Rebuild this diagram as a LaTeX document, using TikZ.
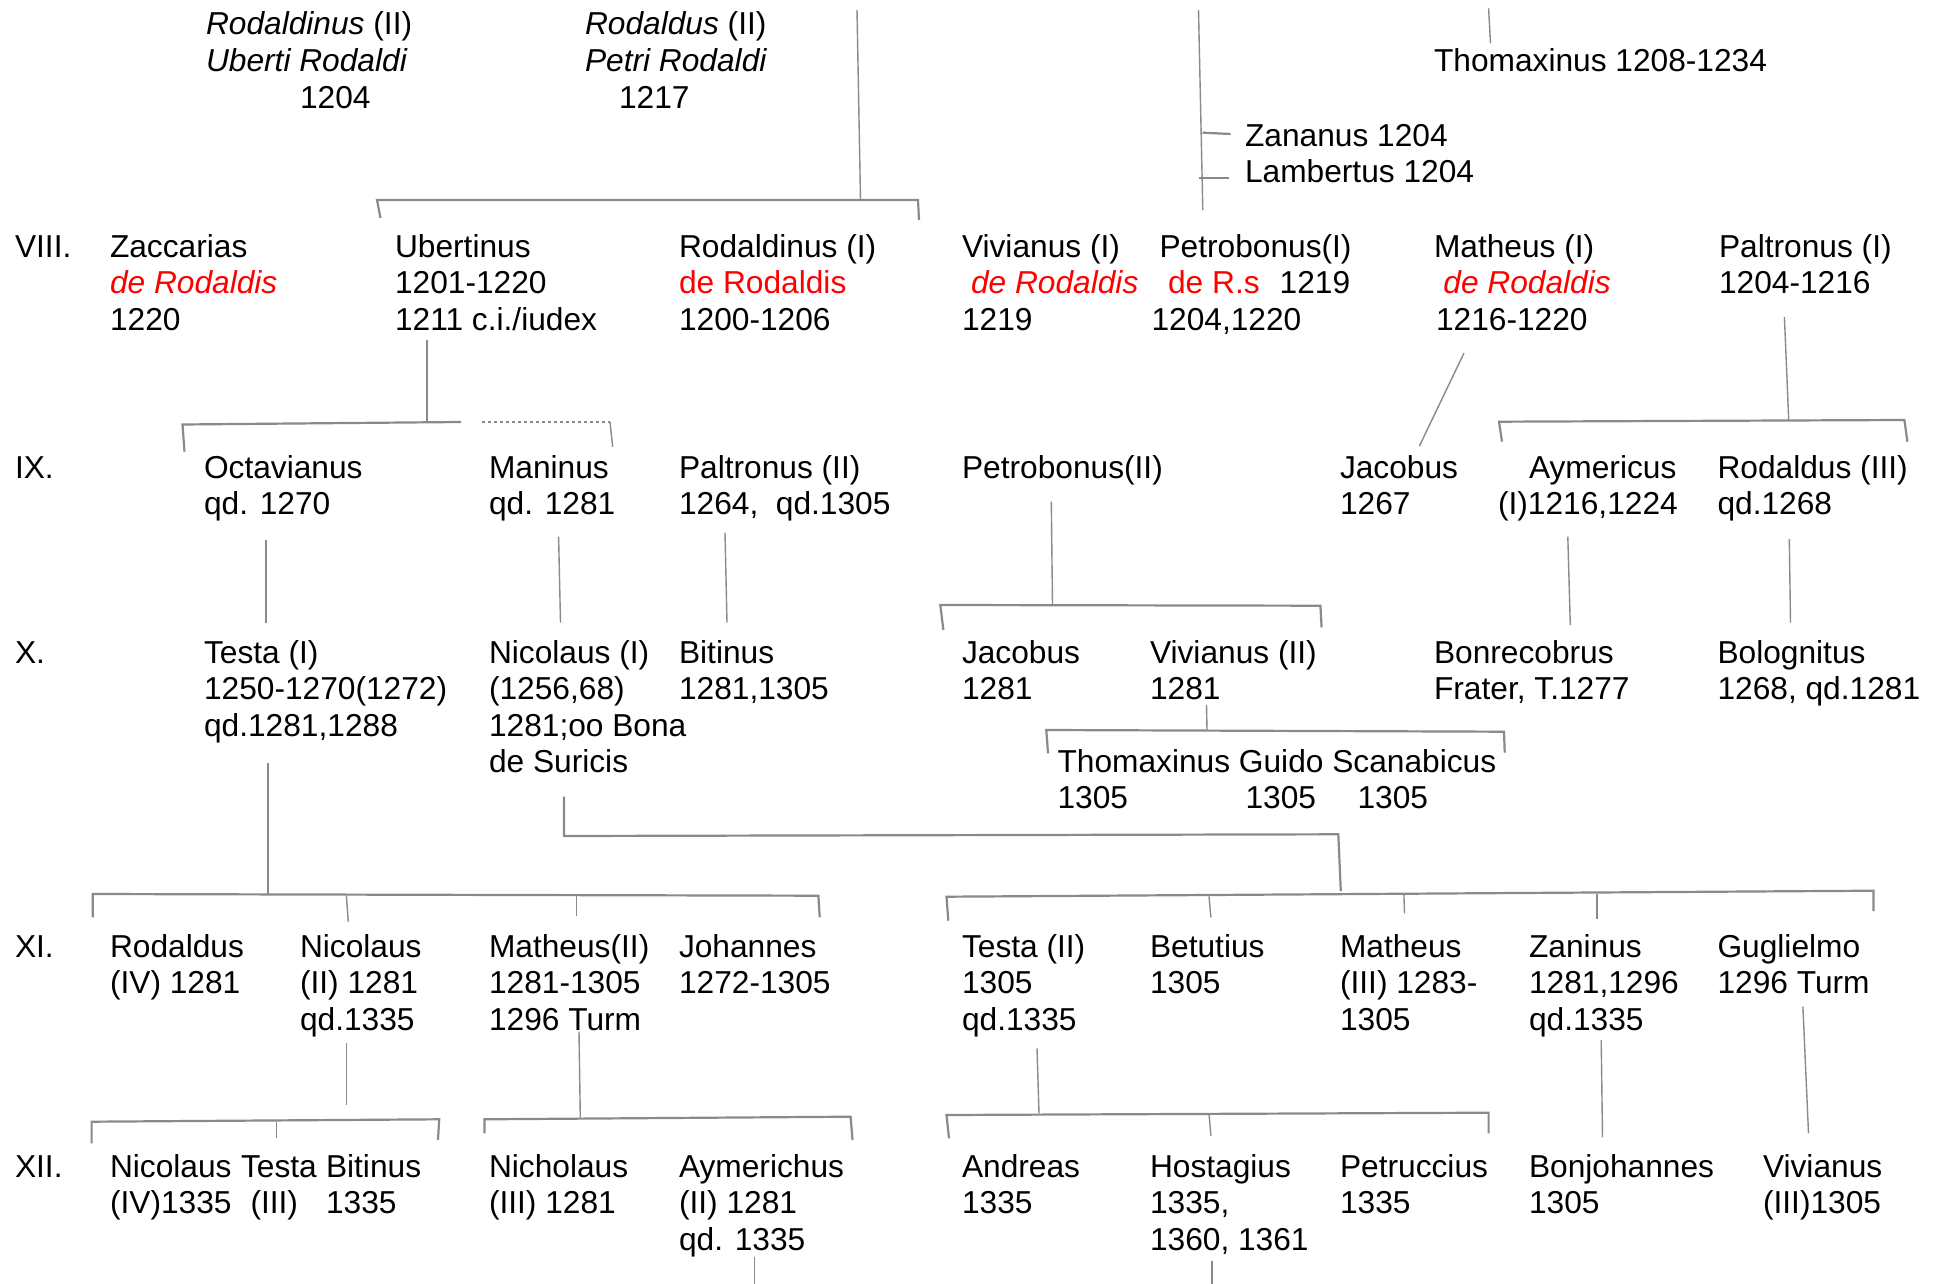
\documentclass[tikz,border=0pt]{standalone}
\usepackage{fontspec}
\setmainfont{Liberation Sans}
\definecolor{linegray}{RGB}{138,138,138}
\definecolor{rred}{RGB}{255,0,0}
\tikzset{
  lbl/.style={anchor=base west, inner sep=0pt, outer sep=0pt,
    font=\fontsize{15.85pt}{18.3pt}\selectfont},
  ln/.style={draw=linegray, line width=0.7pt},
  br/.style={draw=linegray, line width=1.1pt},
  dotbr/.style={draw=linegray, line width=0.8pt, dash pattern=on 1.5pt off 1.5pt},
}
\newcommand{\rdi}[1]{\textcolor{rred}{\textit{#1}}}
\newcommand{\rdu}[1]{\textcolor{rred}{#1}}
\newcommand{\ml}[1]{\begin{tabular}[t]{@{}l@{}}#1\end{tabular}}
\begin{document}
\begin{tikzpicture}[x=0.5pt,y=-0.5pt]
\fill[white] (0,0) rectangle (1939,1284);
\useasboundingbox (0,0) rectangle (1939,1284);

% ---------- top row ----------
\node[lbl] (t1) at (206,35) {\ml{\textit{Rodaldinus} (II)\\\textit{Uberti Rodaldi}\\\hspace*{47pt}1204}};
\node[lbl] (t2) at (585,35) {\ml{\textit{Rodaldus} (II)\\\textit{Petri Rodaldi}\\\hspace*{17pt}1217}};
\node[lbl] (thomtop) at (1434,72) {Thomaxinus 1208-1234};
\node[lbl] (zan) at (1245,147) {Zananus 1204};
\node[lbl] (lamb) at (1245,183) {Lambertus 1204};

% ---------- VIII ----------
\node[lbl] (g8) at (15,257) {VIII.};
\node[lbl] (zacc) at (110,257) {\ml{Zaccarias\\\rdi{de Rodaldis}\\1220}};
\node[lbl] (uber) at (395,257) {\ml{Ubertinus\\1201-1220\\1211 c.i./iudex}};
\node[lbl] (rod1) at (679,257) {\ml{Rodaldinus (I)\\\rdu{de Rodaldis}\\1200-1206}};
\node[lbl] (viv1) at (962,257) {\ml{Vivianus (I)\\\hspace*{4.5pt}\rdi{de Rodaldis}\\1219}};
\node[lbl] (petr1) at (1151.5,257) {\ml{\hspace*{4pt}Petrobonus(I)\\\hspace*{8.3pt}\rdu{de R.s}\hspace*{10pt}1219\\1204,1220}};
\node[lbl] (math1) at (1434,257) {\ml{Matheus (I)\\\hspace*{4.7pt}\rdi{de Rodaldis}\\\hspace*{1pt}1216-1220}};
\node[lbl] (palt1) at (1719,257) {\ml{Paltronus (I)\\1204-1216}};

% ---------- IX ----------
\node[lbl] (g9) at (15,478) {IX.};
\node[lbl] (oct) at (204,478) {\ml{Octavianus\\qd. 1270}};
\node[lbl] (man) at (489,478) {\ml{Maninus\\qd. 1281}};
\node[lbl] (palt2) at (679,478) {\ml{Paltronus (II)\\1264,\ \ qd.1305}};
\node[lbl] (petr2) at (962,478) {Petrobonus(II)};
\node[lbl] (jac1) at (1340,478) {\ml{Jacobus\\1267}};
\node[lbl] (aym) at (1498,478) {\ml{\hspace*{15.5pt}Aymericus\\(I)1216,1224}};
\node[lbl] (rod3) at (1717.5,478) {\ml{Rodaldus (III)\\qd.1268}};

% ---------- X ----------
\node[lbl] (g10) at (15,663) {X.};
\node[lbl] (testa1) at (204,663) {\ml{Testa (I)\\1250-1270(1272)\\qd.1281,1288}};
\node[lbl] (nic1) at (489,663) {\ml{Nicolaus (I)\\(1256,68)\\1281;oo Bona\\de Suricis}};
\node[lbl] (bit1) at (679,663) {\ml{Bitinus\\1281,1305}};
\node[lbl] (jac2) at (962,663) {\ml{Jacobus\\1281}};
\node[lbl] (viv2) at (1150,663) {\ml{Vivianus (II)\\1281}};
\node[lbl] (bonr) at (1434,663) {\ml{Bonrecobrus\\Frater, T.1277}};
\node[lbl] (bolo) at (1717.5,663) {\ml{Bolognitus\\1268, qd.1281}};
\node[lbl] (thgs) at (1057.5,772) {\ml{Thomaxinus Guido Scanabicus\\1305\hspace*{58.75pt}1305\hspace*{20.75pt}1305}};

% ---------- XI ----------
\node[lbl] (g11) at (15,957) {XI.};
\node[lbl] (rod4) at (110,957) {\ml{Rodaldus\\(IV) 1281}};
\node[lbl] (nic2) at (300,957) {\ml{Nicolaus\\(II) 1281\\qd.1335}};
\node[lbl] (math2) at (489,957) {\ml{Matheus(II)\\1281-1305\\1296 Turm}};
\node[lbl] (joh) at (679,957) {\ml{Johannes\\1272-1305}};
\node[lbl] (testa2) at (962,957) {\ml{Testa (II)\\1305\\qd.1335}};
\node[lbl] (betu) at (1150,957) {\ml{Betutius\\1305}};
\node[lbl] (math3) at (1340,957) {\ml{Matheus\\(III) 1283-\\1305}};
\node[lbl] (zan2) at (1529,957) {\ml{Zaninus\\1281,1296\\qd.1335}};
\node[lbl] (gug) at (1717.5,957) {\ml{Guglielmo\\1296 Turm}};

% ---------- XII ----------
\node[lbl] (g12) at (15,1177) {XII.};
\node[lbl] (nic4) at (110,1177) {\ml{Nicolaus\\(IV)1335}};
\node[lbl] (testa3) at (241,1177) {\ml{Testa\\\hspace*{4.75pt}(III)}};
\node[lbl] (bit2) at (326,1177) {\ml{Bitinus\\1335}};
\node[lbl] (nich3) at (489,1177) {\ml{Nicholaus\\(III) 1281}};
\node[lbl] (aym2) at (679,1177) {\ml{Aymerichus\\(II) 1281\\qd. 1335}};
\node[lbl] (andr) at (962,1177) {\ml{Andreas\\1335}};
\node[lbl] (host) at (1150,1177) {\ml{Hostagius\\1335,\\1360, 1361}};
\node[lbl] (petru) at (1340,1177) {\ml{Petruccius\\1335}};
\node[lbl] (bonj) at (1529,1177) {\ml{Bonjohannes\\1305}};
\node[lbl] (viv3) at (1763,1177) {\ml{Vivianus\\(III)1305}};

% ---------- connector points ----------
\coordinate (topA) at (857,10);      \coordinate (topB) at (860.5,200);
\coordinate (b8L) at (380.5,218);    \coordinate (b8Lc) at (377,200);
\coordinate (b8Rc) at (918,200);     \coordinate (b8R) at (919,220);
\coordinate (pA) at (1198.5,10);     \coordinate (pB) at (1202.8,210);
\coordinate (zanT1) at (1202.7,132.7); \coordinate (zanT2) at (1230.7,134);
\coordinate (lamT1) at (1199,177.7); \coordinate (lamT2) at (1229,177.7);
\coordinate (thA) at (1488.6,8.3);   \coordinate (thB) at (1490.5,43.3);

\coordinate (ubA) at (427,340);      \coordinate (ubB) at (427,422);
\coordinate (b9L) at (184.5,451.7);  \coordinate (b9Lc) at (182.5,424.5);
\coordinate (b9M) at (461,422);      \coordinate (b9D) at (482,422);
\coordinate (b9Rc) at (610,422);     \coordinate (b9R) at (612.7,447);

\coordinate (m1A) at (1464,353);     \coordinate (m1B) at (1419.4,446);
\coordinate (p1A) at (1784.4,317);   \coordinate (p1B) at (1788.7,420);
\coordinate (b9bL) at (1502,441.7);  \coordinate (b9bLc) at (1499,421.7);
\coordinate (b9bRc) at (1904.4,420); \coordinate (b9bR) at (1907.4,441.7);

\coordinate (octA) at (266,540);     \coordinate (octB) at (266,622.7);
\coordinate (manA) at (558.6,536.7); \coordinate (manB) at (560.5,622.7);
\coordinate (pl2A) at (725,532.7);   \coordinate (pl2B) at (727,622.7);
\coordinate (pt2A) at (1051.3,501.7); \coordinate (pt2B) at (1052.5,605);
\coordinate (b10L) at (943.4,630);   \coordinate (b10Lc) at (940.3,605);
\coordinate (b10Rc) at (1320.4,605.7); \coordinate (b10R) at (1321.6,627.3);
\coordinate (aymA) at (1567.8,536.7); \coordinate (aymB) at (1570.3,625);
\coordinate (r3A) at (1789.3,539);   \coordinate (r3B) at (1790.5,622.7);

\coordinate (v2A) at (1206.5,705);   \coordinate (v2B) at (1207,730);
\coordinate (btL) at (1048,753.3);   \coordinate (btLc) at (1046.3,730);
\coordinate (btRc) at (1504,731.7);  \coordinate (btR) at (1504.7,752.7);

\coordinate (t1A) at (268,762.7);    \coordinate (t1B) at (268,894.5);
\coordinate (n1A) at (564,796.7);    \coordinate (n1C1) at (564,836);
\coordinate (n1C2) at (1338.3,834.3); \coordinate (n1B) at (1340.8,891);

\coordinate (b11L) at (92.8,917.3);  \coordinate (b11Lc) at (92.8,894);
\coordinate (b11Rc) at (818.4,895.7); \coordinate (b11R) at (819.7,917.3);
\coordinate (k1A) at (346.4,896);    \coordinate (k1B) at (348.3,921.7);
\coordinate (k2A) at (576.6,896);    \coordinate (k2B) at (576.6,916);
\coordinate (b11bL) at (948.3,920.7); \coordinate (b11bLc) at (946.5,896.7);
\coordinate (b11bRc) at (1873.4,890.7); \coordinate (b11bR) at (1873.4,911);
\coordinate (k3A) at (1209,896.3);   \coordinate (k3B) at (1210.9,917.3);
\coordinate (k4A) at (1403.9,895);   \coordinate (k4B) at (1404.5,913.3);
\coordinate (k5A) at (1596.9,894);   \coordinate (k5B) at (1596.9,919.3);

\coordinate (n2A) at (346.4,1043.3); \coordinate (n2B) at (346.4,1105);
\coordinate (b12L) at (91.6,1143.3); \coordinate (b12Lc) at (91.6,1121.7);
\coordinate (b12Rc) at (439.2,1119.3); \coordinate (b12R) at (438,1140);
\coordinate (k6A) at (276.5,1121.5); \coordinate (k6B) at (276.5,1138.3);
\coordinate (m2A) at (579,1031.7);   \coordinate (m2B) at (580.3,1117.5);
\coordinate (b12bL) at (484.4,1133.3); \coordinate (b12bLc) at (484.4,1119.3);
\coordinate (b12bRc) at (850.6,1116.7); \coordinate (b12bR) at (852.5,1140);
\coordinate (ts2A) at (1037,1048.3); \coordinate (ts2B) at (1039,1113.5);
\coordinate (b12cL) at (949,1138.3); \coordinate (b12cLc) at (946.5,1115);
\coordinate (b12cRc) at (1488.6,1112.7); \coordinate (b12cR) at (1488.6,1133.3);
\coordinate (k7A) at (1209,1113.7);  \coordinate (k7B) at (1210.9,1135.7);
\coordinate (znA) at (1601.2,1040);  \coordinate (znB) at (1602.5,1137.3);
\coordinate (ggA) at (1802.9,1006.7); \coordinate (ggB) at (1808.5,1133.3);
\coordinate (a2A) at (754.7,1256.7); \coordinate (a2B) at (754.7,1284);
\coordinate (hsA) at (1212.1,1260.7); \coordinate (hsB) at (1212.1,1284);

% ---------- connectors ----------
\draw[ln] (topA) -- (topB);
\draw[br] (b8L) -- (b8Lc) -- (b8Rc) -- (b8R);
\draw[ln] (pA) -- (pB);
\draw[br] (zanT1) -- (zanT2);
\draw[br] (lamT1) -- (lamT2);
\draw[ln] (thA) -- (thB);

\draw[ln] (ubA) -- (ubB);
\draw[br] (b9L) -- (b9Lc) -- (b9M);
\draw[dotbr] (b9D) -- (b9Rc);
\draw[ln] (b9Rc) -- (b9R);

\draw[ln] (m1A) -- (m1B);
\draw[ln] (p1A) -- (p1B);
\draw[br] (b9bL) -- (b9bLc) -- (b9bRc) -- (b9bR);

\draw[ln] (octA) -- (octB);
\draw[ln] (manA) -- (manB);
\draw[ln] (pl2A) -- (pl2B);
\draw[ln] (pt2A) -- (pt2B);
\draw[br] (b10L) -- (b10Lc) -- (b10Rc) -- (b10R);
\draw[ln] (aymA) -- (aymB);
\draw[ln] (r3A) -- (r3B);

\draw[ln] (v2A) -- (v2B);
\draw[br] (btL) -- (btLc) -- (btRc) -- (btR);

\draw[ln] (t1A) -- (t1B);
\draw[br] (n1A) -- (n1C1) -- (n1C2) -- (n1B);

\draw[br] (b11L) -- (b11Lc) -- (b11Rc) -- (b11R);
\draw[ln] (k1A) -- (k1B);
\draw[ln] (k2A) -- (k2B);
\draw[br] (b11bL) -- (b11bLc) -- (b11bRc) -- (b11bR);
\draw[ln] (k3A) -- (k3B);
\draw[ln] (k4A) -- (k4B);
\draw[ln] (k5A) -- (k5B);

\draw[ln] (n2A) -- (n2B);
\draw[br] (b12L) -- (b12Lc) -- (b12Rc) -- (b12R);
\draw[ln] (k6A) -- (k6B);
\draw[ln] (m2A) -- (m2B);
\draw[br] (b12bL) -- (b12bLc) -- (b12bRc) -- (b12bR);
\draw[ln] (ts2A) -- (ts2B);
\draw[br] (b12cL) -- (b12cLc) -- (b12cRc) -- (b12cR);
\draw[ln] (k7A) -- (k7B);
\draw[ln] (znA) -- (znB);
\draw[ln] (ggA) -- (ggB);
\draw[ln] (a2A) -- (a2B);
\draw[ln] (hsA) -- (hsB);
\end{tikzpicture}
\end{document}
